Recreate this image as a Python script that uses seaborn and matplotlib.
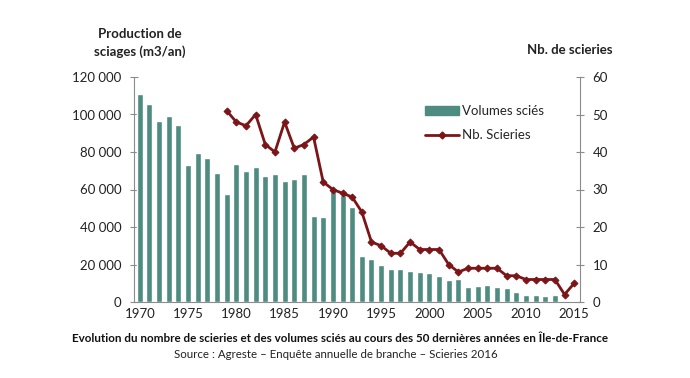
import numpy as np
import pandas as pd
import matplotlib
matplotlib.use("Agg")
import matplotlib.pyplot as plt
import seaborn as sns
from matplotlib.lines import Line2D
import matplotlib.patches as mpatches
from matplotlib.ticker import FuncFormatter, MultipleLocator

# === Data ===
years = list(range(1970, 2016))
volumes = [111000, 105600, 96500, 99200, 94200, 73200, 79500, 76800, 68800, 57800,
           73600, 69900, 71800, 67200, 68300, 64500, 65800, 68100, 45900, 45300,
           59000, 57200, 50500, 24500, 22900, 19600, 17400, 17600, 16700, 16200,
           15300, 13700, 11900, 12100, 8200, 8500, 8900, 8200, 7500, 5200,
           3900, 3900, 3400, 3600, 800, 800]
line_years = list(range(1979, 2016))
nb_scieries = [51, 48, 47, 50, 42, 40, 48, 41, 42, 44,
               32, 30, 29, 28, 24, 16, 15, 13, 13, 16,
               14, 14, 14, 10, 8, 9, 9, 9, 9, 7,
               7, 6, 6, 6, 6, 2, 5]

df_bars = pd.DataFrame({"year": years, "volume": volumes})
df_line = pd.DataFrame({"year": line_years, "nb": nb_scieries})

bar_color = "#4e8c82"
line_color = "#7b1518"
axis_color = "#8c8c8c"

sns.set_style("white")
plt.rcParams["font.family"] = ["Lato", "DejaVu Sans"]

fig = plt.figure(figsize=(6.9, 3.78), dpi=100)
ax = fig.add_axes([134 / 690, 1 - 302 / 378, (580 - 134) / 690, (302 - 77) / 378])

sns.barplot(data=df_bars, x="year", y="volume", native_scale=True, color=bar_color,
            width=0.62, saturation=1, ax=ax)
ax.set_xlim(1969.4, 2015.6)
ax.set_ylim(0, 120000)
ax.yaxis.set_major_locator(MultipleLocator(20000))
ax.yaxis.set_major_formatter(FuncFormatter(lambda v, p: f"{int(v):,}".replace(",", " ")))
ax.set_xlabel("")
ax.set_ylabel("")

# x axis: labels every 5 years, ticks at category boundaries
ax.set_xticks(list(range(1970, 2016, 5)))
ax.set_xticks([y - 0.5 for y in years] + [2015.5], minor=True)
ax.tick_params(axis="x", which="major", length=0, labelsize=9.5, colors="#222222", pad=4)
ax.tick_params(axis="x", which="minor", length=6, direction="inout", color=axis_color, width=0.8)
ax.tick_params(axis="y", length=6, direction="inout", color=axis_color, width=0.8,
               labelsize=9.5, labelcolor="#222222", pad=6)

for s in ["top", "right"]:
    ax.spines[s].set_visible(False)
for s in ["left", "bottom"]:
    ax.spines[s].set_color(axis_color)
    ax.spines[s].set_linewidth(0.8)

ax2 = ax.twinx()
sns.lineplot(data=df_line, x="year", y="nb", color=line_color, linewidth=2.0,
             marker="D", markersize=3.5, markeredgecolor=line_color, ax=ax2)
ax2.set_ylim(0, 60)
ax2.yaxis.set_major_locator(MultipleLocator(10))
ax2.set_xlim(1969.4, 2015.6)
ax2.set_xlabel("")
ax2.set_ylabel("")
ax2.tick_params(axis="y", length=6, direction="inout", color=axis_color, width=0.8,
                labelsize=9.5, labelcolor="#222222", pad=6)
for s in ["top", "left", "bottom"]:
    ax2.spines[s].set_visible(False)
ax2.spines["right"].set_color(axis_color)
ax2.spines["right"].set_linewidth(0.8)

handles = [
    mpatches.Patch(color=bar_color, label="Volumes sciés"),
    Line2D([0], [0], color=line_color, linewidth=2.0, marker="D", markersize=3.5,
           label="Nb. Scieries"),
]
ax2.legend(handles=handles, loc="upper left", bbox_to_anchor=(0.64, 0.90), frameon=False,
           fontsize=9.5, handlelength=2.6, handletextpad=0.2, labelspacing=0.95,
           borderaxespad=0)

fig.text(140 / 690, 1 - 43 / 378, "Production de\nsciages (m3/an)", ha="center", va="center",
         fontsize=9.5, fontweight="bold", linespacing=1.5, color="#222222")
fig.text(570 / 690, 1 - 50 / 378, "Nb. de scieries", ha="center", va="center",
         fontsize=9.5, fontweight="bold", color="#222222")
fig.text(340 / 690, 1 - 338 / 378,
         "Evolution du nombre de scieries et des volumes sciés au cours des 50 dernières années en Île-de-France",
         ha="center", va="center", fontsize=8.4, fontweight="bold", color="#111111")
fig.text(336 / 690, 1 - 354 / 378, "Source : Agreste – Enquête annuelle de branche – Scieries 2016",
         ha="center", va="center", fontsize=8.3, color="#222222")

fig.savefig("out.png", dpi=100)
